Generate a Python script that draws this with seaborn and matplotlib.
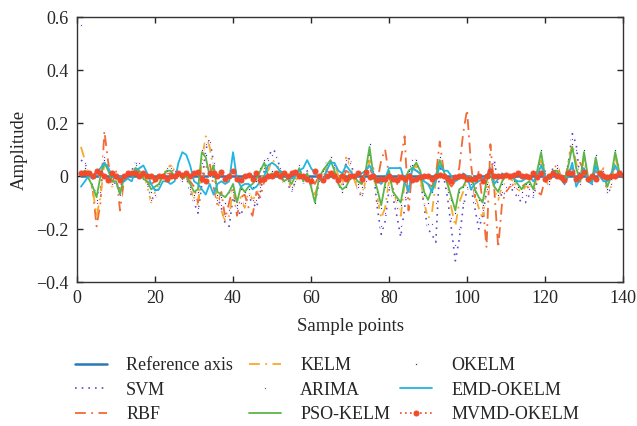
import numpy as np
import pandas as pd
import seaborn as sns
import matplotlib
matplotlib.use("Agg")
import matplotlib.pyplot as plt
from matplotlib.ticker import FuncFormatter, MultipleLocator

sample = list(range(1, 141))

reference = [0.0] * 140

svm = [0.06, 0.05, 0.01, -0.04, -0.07, -0.05, 0.06, 0.04, -0.02, -0.03,
       -0.05, 0.0, 0.01, 0.02, 0.05, 0.03, 0.0, -0.03, -0.08, -0.09,
       -0.04, -0.01, 0.02, 0.04, 0.01, 0.0, -0.02, 0.0, -0.06, -0.1,
       -0.14, -0.03, 0.1, 0.14, 0.05, -0.08, -0.12, -0.18, -0.19, -0.08,
       -0.12, -0.15, -0.1, -0.08, -0.1, -0.12, -0.06, 0.02, 0.07, 0.1,
       0.09, 0.03, -0.02, -0.03, -0.06, -0.02, 0.04, -0.03, 0.02, -0.04,
       -0.1, -0.03, 0.01, 0.05, 0.06, 0.03, -0.03, -0.06, 0.05, 0.07,
       0.0, -0.05, -0.08, -0.03, 0.08, 0.02, -0.12, -0.22, -0.17, -0.05,
       -0.08, -0.15, -0.23, -0.12, -0.02, 0.07, 0.06, 0.0, -0.12, -0.2,
       -0.22, -0.25, 0.04, 0.0, -0.08, -0.2, -0.32, -0.24, -0.12, -0.05,
       -0.04, -0.12, -0.2, -0.15, -0.06, 0.02, 0.06, -0.04, -0.08, -0.05,
       -0.04, -0.06, -0.08, -0.1, -0.1, -0.07, -0.08, -0.02, 0.08, 0.02,
       -0.04, 0.03, 0.04, -0.01, -0.02, 0.05, 0.16, 0.12, -0.02, 0.08,
       -0.01, -0.03, 0.06, 0.0, 0.03, -0.07, -0.04, 0.08, 0.03, 0.0]

rbf = [0.0, 0.02, 0.0, -0.05, -0.19, -0.1, 0.17, 0.05, -0.03, 0.02,
       -0.13, -0.02, 0.0, 0.01, 0.02, 0.01, 0.0, -0.02, -0.03, -0.02,
       -0.01, 0.0, 0.01, 0.01, 0.0, 0.01, 0.0, -0.01, -0.02, -0.04,
       -0.1, -0.02, 0.03, 0.05, -0.04, -0.11, -0.06, -0.16, -0.1, -0.04,
       -0.15, -0.08, -0.07, -0.12, -0.15, -0.06, -0.08, -0.02, 0.0, 0.02,
       0.01, 0.0, -0.02, -0.01, -0.02, -0.01, 0.01, 0.0, -0.02, -0.01,
       -0.03, 0.0, 0.01, 0.02, 0.01, 0.0, -0.01, -0.02, 0.02, 0.01,
       0.0, -0.02, -0.03, 0.0, 0.03, 0.0, -0.02, 0.06, 0.1, 0.0,
       -0.05, -0.04, 0.06, 0.15, -0.13, 0.03, 0.02, 0.01, -0.02, -0.03,
       -0.04, 0.0, 0.13, 0.02, -0.02, -0.04, -0.02, 0.03, 0.16, 0.25,
       0.05, -0.08, 0.02, -0.1, -0.27, 0.12, -0.05, -0.27, -0.1, -0.06,
       -0.04, -0.03, -0.05, -0.04, -0.03, -0.05, -0.04, -0.06, -0.07, -0.01,
       -0.02, 0.0, 0.05, 0.0, -0.01, 0.02, 0.03, 0.01, 0.05, 0.02,
       0.0, -0.01, 0.02, 0.0, 0.01, -0.02, 0.0, 0.03, 0.01, 0.0]

kelm = [0.11, 0.06, 0.0, -0.05, -0.15, -0.08, 0.05, 0.03, -0.04, -0.02,
        -0.06, -0.01, 0.0, 0.01, 0.03, 0.04, 0.02, -0.04, -0.1, -0.06,
        -0.03, 0.0, 0.03, 0.04, 0.02, 0.0, -0.02, 0.01, -0.05, -0.08,
        -0.11, 0.06, 0.15, 0.11, 0.02, -0.1, -0.13, -0.17, -0.15, -0.05,
        -0.1, -0.08, -0.12, -0.06, -0.09, -0.07, -0.03, 0.04, 0.02, 0.06,
        0.05, 0.02, -0.03, -0.01, -0.05, -0.03, 0.03, -0.01, 0.0, -0.03,
        -0.07, -0.02, -0.01, 0.03, 0.04, 0.05, 0.0, -0.04, 0.07, 0.04,
        -0.01, -0.05, -0.07, -0.02, 0.06, 0.03, -0.08, -0.16, -0.12, -0.02,
        -0.05, -0.1, -0.15, -0.03, 0.0, 0.02, 0.04, 0.0, -0.1, -0.16,
        -0.14, -0.02, 0.05, 0.02, -0.03, -0.12, -0.19, -0.1, -0.06, -0.02,
        -0.01, -0.07, -0.12, -0.16, -0.05, 0.01, -0.05, -0.09, -0.04, -0.02,
        -0.01, -0.02, -0.05, -0.06, -0.04, -0.03, -0.06, 0.0, 0.06, -0.02,
        -0.03, 0.02, 0.03, 0.0, -0.03, 0.06, 0.12, 0.05, -0.03, 0.07,
        -0.01, -0.03, 0.05, 0.0, 0.03, -0.06, -0.04, 0.07, 0.02, 0.0]

okelm = [0.02, 0.03, -0.01, -0.05, -0.09, 0.0, 0.06, 0.02, -0.03, -0.02,
         -0.06, -0.02, 0.01, 0.01, 0.04, 0.03, -0.01, -0.03, -0.06, -0.05,
         -0.03, 0.0, 0.02, 0.03, 0.01, 0.01, -0.01, 0.0, -0.04, -0.07,
         -0.06, 0.1, 0.08, 0.0, 0.05, -0.07, -0.08, -0.1, -0.06, -0.03,
         -0.11, -0.05, -0.06, -0.05, -0.04, -0.02, 0.03, 0.06, 0.0, 0.02,
         0.01, 0.03, -0.02, -0.02, -0.04, 0.0, 0.04, -0.02, 0.01, -0.05,
         -0.1, -0.02, 0.02, 0.05, 0.07, 0.02, -0.03, -0.06, -0.04, -0.01,
         0.0, -0.03, -0.04, 0.02, 0.12, 0.01, -0.06, -0.12, -0.04, 0.02,
         -0.07, -0.09, -0.11, -0.03, 0.02, 0.04, 0.06, 0.02, -0.07, -0.1,
         -0.06, 0.0, 0.07, 0.02, -0.04, -0.09, -0.14, -0.06, -0.04, -0.02,
         0.0, -0.06, -0.09, -0.11, -0.03, 0.02, -0.04, -0.07, -0.03, 0.0,
         0.0, -0.02, -0.04, -0.06, -0.03, -0.03, -0.06, 0.02, 0.1, 0.0,
         -0.02, 0.02, 0.03, 0.0, -0.03, 0.05, 0.12, 0.03, -0.03, 0.1,
         0.0, -0.03, 0.08, 0.0, 0.01, -0.05, -0.01, 0.1, 0.02, 0.0]

arima = [0.57, 0.05, 0.0, -0.05, -0.1, -0.06, 0.07, 0.03, -0.03, -0.02,
         -0.07, 0.0, 0.01, 0.02, 0.05, 0.05, 0.01, -0.03, -0.09, -0.07,
         -0.03, 0.0, 0.03, 0.03, 0.02, 0.0, -0.02, 0.01, -0.05, -0.09,
         -0.12, 0.05, 0.12, 0.13, 0.04, -0.09, -0.11, -0.15, -0.13, -0.06,
         -0.12, -0.1, -0.1, -0.07, -0.09, -0.09, -0.04, 0.03, 0.06, 0.08,
         0.07, 0.03, -0.02, -0.02, -0.05, -0.02, 0.04, -0.02, 0.01, -0.04,
         -0.08, -0.02, 0.0, 0.04, 0.05, 0.04, -0.02, -0.05, 0.06, 0.05,
         0.0, -0.04, -0.07, -0.02, 0.07, 0.02, -0.1, -0.19, -0.14, -0.04,
         -0.07, -0.12, -0.19, -0.08, -0.01, 0.06, 0.05, 0.0, -0.11, -0.18,
         -0.18, -0.1, 0.05, 0.01, -0.06, -0.16, -0.26, -0.2, -0.1, -0.04,
         -0.03, -0.1, -0.16, -0.13, -0.05, 0.02, 0.04, -0.05, -0.06, -0.04,
         -0.03, -0.04, -0.07, -0.08, -0.07, -0.05, -0.07, -0.01, 0.07, 0.01,
         -0.03, 0.02, 0.04, -0.01, -0.02, 0.05, 0.14, 0.1, -0.03, 0.08,
         -0.01, -0.03, 0.06, 0.0, 0.02, -0.06, -0.03, 0.08, 0.02, 0.0]

pso_kelm = [0.01, 0.02, -0.01, -0.04, -0.08, 0.0, 0.05, 0.02, -0.02, -0.02,
            -0.07, -0.01, 0.01, 0.0, 0.03, 0.02, -0.01, -0.02, -0.05, -0.04,
            -0.03, 0.0, 0.02, 0.02, 0.0, 0.01, -0.01, 0.0, -0.03, -0.06,
            -0.05, 0.09, 0.07, 0.0, 0.04, -0.06, -0.07, -0.08, -0.06, -0.03,
            -0.1, -0.04, -0.06, -0.04, -0.03, -0.01, 0.02, 0.05, 0.0, 0.01,
            0.0, 0.02, -0.02, -0.01, -0.03, 0.0, 0.03, -0.02, 0.01, -0.04,
            -0.1, -0.01, 0.02, 0.04, 0.06, 0.02, -0.03, -0.05, -0.04, -0.01,
            0.0, -0.02, -0.03, 0.02, 0.11, 0.0, -0.05, -0.11, -0.03, 0.02,
            -0.06, -0.08, -0.1, -0.02, 0.02, 0.03, 0.05, 0.02, -0.06, -0.09,
            -0.05, 0.0, 0.06, 0.02, -0.03, -0.08, -0.13, -0.05, -0.04, -0.01,
            0.0, -0.05, -0.08, -0.1, -0.02, 0.02, -0.04, -0.06, -0.02, 0.0,
            0.0, -0.01, -0.03, -0.05, -0.03, -0.02, -0.05, 0.02, 0.09, 0.0,
            -0.01, 0.02, 0.02, 0.0, -0.02, 0.04, 0.11, 0.03, -0.02, 0.09,
            0.0, -0.02, 0.07, 0.0, 0.01, -0.04, 0.0, 0.09, 0.02, 0.0]

emd_okelm = [-0.04, -0.02, 0.0, -0.01, 0.01, 0.03, 0.05, 0.03, 0.0, -0.01,
             0.0, -0.02, -0.01, -0.02, 0.02, 0.03, 0.04, 0.01, -0.03, -0.055,
             -0.05, -0.02, -0.02, -0.03, -0.02, 0.05, 0.09, 0.08, 0.04, -0.02,
             -0.03, -0.05, -0.07, -0.03, -0.07, -0.03, -0.02, -0.03, -0.02, 0.09,
             -0.01, -0.04, -0.03, -0.03, -0.05, -0.04, -0.02, 0.0, 0.04, 0.05,
             0.04, 0.02, 0.01, -0.01, -0.01, 0.0, 0.02, 0.03, 0.06, 0.03,
             0.01, -0.01, -0.02, 0.02, 0.05, 0.05, 0.02, 0.01, 0.04, 0.02,
             0.0, 0.0, 0.01, 0.02, 0.04, 0.01, -0.02, -0.03, -0.01, 0.03,
             0.03, 0.03, 0.03, -0.02, -0.06, 0.03, 0.02, 0.01, -0.02, -0.03,
             -0.06, -0.02, 0.04, 0.02, 0.02, 0.0, -0.02, -0.01, 0.01, 0.0,
             -0.05, -0.03, -0.02, -0.01, 0.0, 0.03, -0.03, -0.01, 0.01, 0.0,
             0.0, -0.01, -0.02, -0.02, -0.01, 0.0, -0.02, 0.0, 0.04, 0.0,
             -0.01, 0.0, 0.01, -0.01, -0.03, 0.0, 0.05, -0.04, -0.01, 0.03,
             -0.02, -0.03, 0.04, 0.0, -0.02, -0.02, 0.01, 0.04, 0.01, 0.0]

mvmd_okelm = [0.01, 0.01, 0.01, 0.0, 0.02, 0.01, 0.0, -0.015, 0.01, 0.0,
              -0.015, 0.0, 0.01, 0.01, 0.01, 0.0, 0.01, 0.0, 0.0, -0.01,
              0.0, 0.0, -0.01, 0.0, 0.0, 0.01, 0.005, 0.01, 0.0, 0.01,
              0.015, -0.01, -0.02, 0.01, 0.01, 0.0, 0.015, -0.01, 0.0, 0.02,
              -0.01, -0.015, 0.0, 0.005, -0.01, 0.01, -0.015, -0.01, 0.0, 0.0,
              0.01, 0.0, 0.01, 0.0, 0.01, 0.015, 0.0, 0.0, -0.01, -0.02,
              0.02, 0.0, -0.015, 0.0, 0.01, 0.0, -0.015, 0.0, -0.01, 0.0,
              0.0, 0.01, -0.01, 0.015, -0.005, 0.0, -0.015, -0.01, -0.01, 0.0,
              -0.01, -0.015, -0.005, -0.01, 0.0, -0.015, -0.01, -0.005, 0.0, 0.0,
              -0.01, 0.0, 0.005, 0.0, -0.01, -0.02, -0.005, 0.0, 0.0, -0.01,
              -0.01, -0.01, 0.0, -0.02, 0.0, 0.02, 0.0, 0.0, 0.0, 0.005,
              0.0, 0.005, 0.01, 0.0, 0.0, -0.005, 0.01, -0.005, 0.01, -0.01,
              0.0, 0.01, 0.0, -0.005, -0.015, 0.01, 0.01, -0.01, 0.0, 0.015,
              -0.01, 0.0, -0.01, 0.01, 0.0, -0.005, 0.0, 0.0, 0.01, 0.005]

sns.set_style("ticks")
plt.rcParams['font.family'] = ['Liberation Serif', 'DejaVu Serif']

fig = plt.figure(figsize=(6.37, 4.26), dpi=100)
ax = fig.add_axes([0.121, 0.338, 0.857, 0.622])

series = [
    ("Reference axis", reference, dict(color="#2b78b5", lw=1.8, ls="-")),
    ("SVM", svm, dict(color="#5b4cc9", lw=1.2, ls=(0, (1, 3)))),
    ("RBF", rbf, dict(color="#f26a36", lw=1.3, ls=(0, (6, 3, 1, 3)))),
    ("KELM", kelm, dict(color="#f7a928", lw=1.3, ls=(0, (6, 3, 1, 3)))),
    ("OKELM", okelm, dict(color="#2a2f8a", ls="none", marker=".", ms=3.5)),
    ("ARIMA", arima, dict(color="#8e3fbf", ls="none", marker=".", ms=3.5)),
    ("PSO-KELM", pso_kelm, dict(color="#5ab648", lw=1.3, ls="-")),
    ("EMD-OKELM", emd_okelm, dict(color="#1eb6e3", lw=1.3, ls="-")),
    ("MVMD-OKELM", mvmd_okelm, dict(color="#f24a2a", lw=1.2, ls=(0, (1, 2)),
                                    marker="o", ms=3.6, mec="#f24a2a")),
]

handles = {}
for name, vals, kw in series:
    df = pd.DataFrame({"x": sample, "y": vals})
    sns.lineplot(data=df, x="x", y="y", ax=ax, errorbar=None, label=name,
                 legend=False, **kw)
    handles[name] = ax.get_lines()[-1]

ax.set_xlim(0, 140)
ax.set_ylim(-0.4, 0.6)
ax.xaxis.set_major_locator(MultipleLocator(20))
ax.yaxis.set_major_locator(MultipleLocator(0.2))
ax.yaxis.set_major_formatter(FuncFormatter(
    lambda v, p: "0" if abs(v) < 1e-9 else ("\u2212%.1f" % abs(v) if v < 0 else "%.1f" % v)))
ax.tick_params(direction="in", top=True, right=True, labelsize=13, length=4,
               width=1, pad=6)
for s in ax.spines.values():
    s.set_linewidth(1.0)
    s.set_color("#333333")
ax.set_xlabel("Sample points", fontsize=13.5, labelpad=8)
ax.set_ylabel("Amplitude", fontsize=13.5, labelpad=6)

columns = [
    (["Reference axis", "SVM", "RBF"], 0.106),
    (["KELM", "ARIMA", "PSO-KELM"], 0.379),
    (["OKELM", "EMD-OKELM", "MVMD-OKELM"], 0.616),
]
for names, x0 in columns:
    fig.legend([handles[n] for n in names], names, ncol=1, frameon=False,
               loc="upper left", bbox_to_anchor=(x0, 0.178),
               fontsize=13, handlelength=1.8, handletextpad=1.05,
               labelspacing=0.4, borderaxespad=0)

fig.savefig("out.png", dpi=100)
